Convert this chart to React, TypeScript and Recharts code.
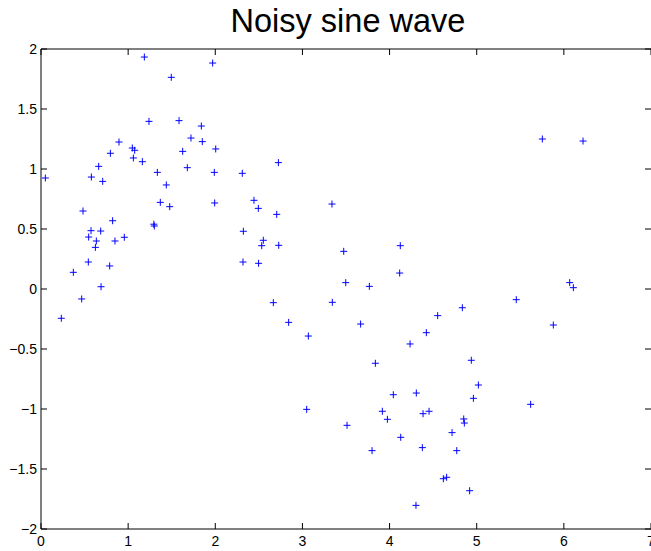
import { ScatterChart, Scatter, XAxis, YAxis, ReferenceLine } from 'recharts'

// sample positions (x) and noisy sine readings (y)
const sampleX = [
  0.05, 1.186, 1.97, 1.495, 1.239, 1.584, 1.84, 1.721, 1.851, 0.895,
  1.048, 1.075, 2.005, 1.626, 0.796, 1.06, 1.163, 0.662, 1.679, 0.578,
  1.335, 1.989, 2.31, 0.708, 1.438, 1.369, 1.477, 1.993, 0.482, 0.822,
  1.295, 1.3, 2.322, 0.574, 0.685, 0.547, 0.956, 0.635, 0.849, 0.624,
  0.543, 2.318, 0.788, 0.371, 0.689, 0.467, 0.233, 2.724, 2.444, 2.494,
  3.339, 2.705, 2.551, 2.533, 2.728, 3.474, 4.123, 2.497, 4.116, 3.497,
  3.768, 2.666, 3.343, 2.842, 3.668, 3.068, 4.235, 5.454, 4.835, 4.552,
  4.422, 3.837, 4.938, 5.019, 4.962, 4.043, 4.307, 3.049, 3.917, 4.453,
  4.384, 3.975, 4.851, 4.858, 3.512, 4.717, 4.128, 4.376, 3.799, 4.771,
  4.617, 4.655, 4.919, 4.303, 5.753, 6.22, 6.067, 6.109, 5.879, 5.619,
]

const sampleY = [
  0.925, 1.933, 1.883, 1.764, 1.397, 1.403, 1.358, 1.258, 1.228, 1.225,
  1.175, 1.156, 1.167, 1.147, 1.131, 1.092, 1.061, 1.022, 1.011, 0.933,
  0.972, 0.972, 0.964, 0.897, 0.867, 0.722, 0.686, 0.717, 0.65, 0.569,
  0.54, 0.525, 0.481, 0.486, 0.483, 0.433, 0.431, 0.4, 0.4, 0.347,
  0.225, 0.225, 0.192, 0.139, 0.019, -0.083, -0.244, 1.053, 0.739, 0.672,
  0.708, 0.622, 0.406, 0.361, 0.364, 0.314, 0.361, 0.214, 0.133, 0.053,
  0.022, -0.114, -0.111, -0.278, -0.292, -0.392, -0.458, -0.089, -0.156, -0.222,
  -0.364, -0.619, -0.594, -0.8, -0.911, -0.881, -0.867, -1.003, -1.019, -1.019,
  -1.039, -1.086, -1.083, -1.117, -1.136, -1.197, -1.236, -1.322, -1.347, -1.347,
  -1.581, -1.569, -1.681, -1.803, 1.25, 1.233, 0.053, 0.011, -0.3, -0.961,
]

const xTicks = [0, 1, 2, 3, 4, 5, 6, 7]
const yTicks = [-2, -1.5, -1, -0.5, 0, 0.5, 1, 1.5, 2]

const points = sampleX.map((x, i) => ({ x, y: sampleY[i] }))

const W = 651
const H = 551
const TOP = 49
const BOTTOM = 529
const LEFT = 41
const RIGHT = 651
const TICK = 6
const FONT = '"Liberation Sans", Arial, Helvetica, sans-serif'

const fmt = (v: number) => (v < 0 ? '\u2212' + String(-v) : String(v))

// bottom labels plus inward ticks on bottom and top edges
const XTick = ({ x, payload }: any) => (
  <g>
    <line x1={x} y1={BOTTOM} x2={x} y2={BOTTOM - TICK} stroke="#000" />
    <line x1={x} y1={TOP} x2={x} y2={TOP + TICK} stroke="#000" />
    <text x={x} y={BOTTOM + 7} dy="0.71em" textAnchor="middle" fontSize={14} fontFamily={FONT} fill="#000">
      {fmt(payload.value)}
    </text>
  </g>
)

// left labels plus inward ticks on left and right edges
const YTick = ({ y, payload }: any) => (
  <g>
    <line x1={LEFT} y1={y} x2={LEFT + TICK} y2={y} stroke="#000" />
    <line x1={RIGHT} y1={y} x2={RIGHT - TICK} y2={y} stroke="#000" />
    <text x={LEFT - 4} y={y} dy="0.355em" textAnchor="end" fontSize={14} fontFamily={FONT} fill="#000">
      {fmt(payload.value)}
    </text>
  </g>
)

// '+' marker
const Plus = ({ cx, cy }: any) => (
  <path
    d={`M${cx - 3.5},${cy}H${cx + 3.5}M${cx},${cy - 3.5}V${cy + 3.5}`}
    stroke="#0000ff"
    strokeWidth={1}
    fill="none"
  />
)

export default function App() {
  return (
    <div style={{ position: 'absolute', left: 0, top: 0, width: W, height: H, background: '#fff' }}>
      {/* title centred over the axes box, which runs a little past the right edge */}
      <div
        style={{
          position: 'absolute',
          left: LEFT,
          top: 5,
          width: 614,
          textAlign: 'center',
          fontFamily: FONT,
          fontSize: 32.5,
          lineHeight: '32px',
          color: '#000',
          whiteSpace: 'nowrap',
        }}
      >
        Noisy sine wave
      </div>
      <ScatterChart
        width={W}
        height={H}
        margin={{ top: TOP, right: W - RIGHT, bottom: 0, left: 0 }}
      >
        <XAxis
          type="number"
          dataKey="x"
          domain={[0, 7]}
          ticks={xTicks}
          interval={0}
          height={H - BOTTOM}
          tickSize={0}
          tickMargin={0}
          tickLine={false}
          tick={<XTick />}
          axisLine={{ stroke: '#000' }}
          allowDataOverflow
        />
        <YAxis
          type="number"
          dataKey="y"
          domain={[-2, 2]}
          ticks={yTicks}
          interval={0}
          width={LEFT}
          tickSize={0}
          tickMargin={0}
          tickLine={false}
          tick={<YTick />}
          axisLine={{ stroke: '#000' }}
          allowDataOverflow
        />
        <ReferenceLine y={2} stroke="#000" />
        <Scatter data={points} shape={<Plus />} isAnimationActive={false} />
      </ScatterChart>
    </div>
  )
}
